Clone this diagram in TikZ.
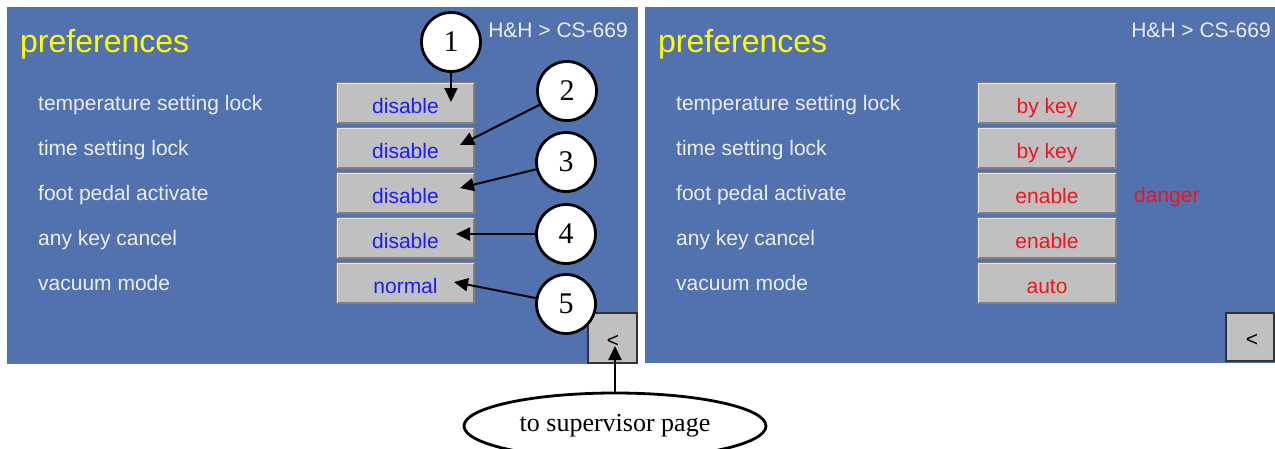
\documentclass[tikz,border=0pt]{standalone}
\usepackage{fontspec}
\usetikzlibrary{arrows.meta,shapes.geometric}
\newfontfamily\uifont{Liberation Sans}
\newfontfamily\tnrfont{Liberation Serif}
\definecolor{panelblue}{RGB}{81,113,175}
\definecolor{lblwhite}{RGB}{236,238,246}
\definecolor{ttlyellow}{RGB}{255,255,0}
\definecolor{btngray}{RGB}{192,192,192}
\definecolor{btnlight}{RGB}{228,228,228}
\definecolor{btndark}{RGB}{128,128,128}
\definecolor{valblue}{RGB}{30,30,240}
\definecolor{valred}{RGB}{240,20,30}
\tikzset{
  panel/.style={fill=panelblue, draw=none},
  lbl/.style={anchor=base west, inner sep=0, text=lblwhite, font=\uifont\fontsize{21}{25}\selectfont},
  ttl/.style={anchor=base west, inner sep=0, text=ttlyellow, font=\uifont\fontsize{32}{38}\selectfont},
  hdr/.style={anchor=base east, inner sep=0, text=lblwhite, font=\uifont\fontsize{21}{25}\selectfont},
  btn/.style={rectangle, fill=btngray, draw=btndark, line width=1.2pt, minimum height=40pt, inner sep=0},
  val/.style={anchor=base, inner sep=0, font=\uifont\fontsize{21}{25}\selectfont},
  backbtn/.style={rectangle, fill=btngray, draw=black!80, line width=1.5pt, inner sep=0},
  num/.style={circle, draw=black, fill=white, line width=2.8pt, minimum size=59pt, inner sep=0, font=\tnrfont\fontsize{30}{34}\selectfont},
  arr/.style={draw=black, line width=2pt, -{Triangle[length=14pt,width=13pt]}},
  note/.style={ellipse, draw=black, line width=2.8pt, fill=white, minimum width=302pt, minimum height=66pt, inner sep=0, font=\tnrfont\fontsize{26}{30}\selectfont},
}
\begin{document}
\begin{tikzpicture}[x=1pt,y=-1pt]
\useasboundingbox (0,0) rectangle (1275,448);
% panels
\fill[panel] (7,7) rectangle (638,364);
\fill[panel] (645,7) rectangle (1275,363);
% titles
\node[ttl] (tl) at (20,52) {preferences};
\node[ttl] (tr) at (658,52) {preferences};
\node[hdr] (hl) at (628,37) {H\&H > CS-669};
\node[hdr] (hr) at (1271,37) {H\&H > CS-669};
% labels
\foreach \t [count=\i from 0] in {temperature setting lock,time setting lock,foot pedal activate,any key cancel,vacuum mode}{
  \node[lbl] (ll\i) at (38,110.5+45*\i) {\t};
  \node[lbl] (lr\i) at (676,110.5+45*\i) {\t};
}
% buttons
\foreach \a/\b [count=\i from 0] in {disable/by key,disable/by key,disable/enable,disable/enable,normal/auto}{
  \node[btn, minimum width=137pt] (bl\i) at (405.5,103+45*\i) {};
  \draw[btnlight, line width=1.5pt] ([xshift=1pt,yshift=1pt]bl\i.south west) |- ([xshift=-1pt,yshift=-1pt]bl\i.north east);
  \node[val, text=valblue] (vl\i) at (405.5,113+45*\i) {\a};
  \node[btn, minimum width=138pt] (br\i) at (1047,103+45*\i) {};
  \draw[btnlight, line width=1.5pt] ([xshift=1pt,yshift=1pt]br\i.south west) |- ([xshift=-1pt,yshift=-1pt]br\i.north east);
  \node[val, text=valred] (vr\i) at (1047,113+45*\i) {\b};
}
\node[lbl, text=valred] (dg) at (1134,202) {danger};
% back buttons
\node[backbtn, minimum width=49pt, minimum height=50pt] (bkl) at (612.5,338) {};
\node[val] (bklt) at (613,347) {<};
\node[backbtn, minimum width=48pt, minimum height=48pt] (bkr) at (1250,337) {};
\node[val] (bkrt) at (1252,346) {<};
% numbered circles
\node[num] (c1) at (451,42) {1};
\node[num] (c2) at (567,91) {2};
\node[num] (c3) at (566,162) {3};
\node[num] (c4) at (566,234) {4};
\node[num] (c5) at (566,304) {5};
\coordinate (t1) at (451,102);
\coordinate (t2) at (460,145);
\coordinate (t3) at (460,188);
\coordinate (t4) at (456,234);
\coordinate (t5) at (454,282);
\draw[arr] (c1) -- (t1);
\draw[arr] (c2) -- (t2);
\draw[arr] (c3) -- (t3);
\draw[arr] (c4) -- (t4);
\draw[arr] (c5) -- (t5);
% supervisor note
\node[note] (sup) at (615,426) {to supervisor page};
\coordinate (tb) at (615,346);
\draw[arr] (sup) -- (tb);
\end{tikzpicture}
\end{document}
